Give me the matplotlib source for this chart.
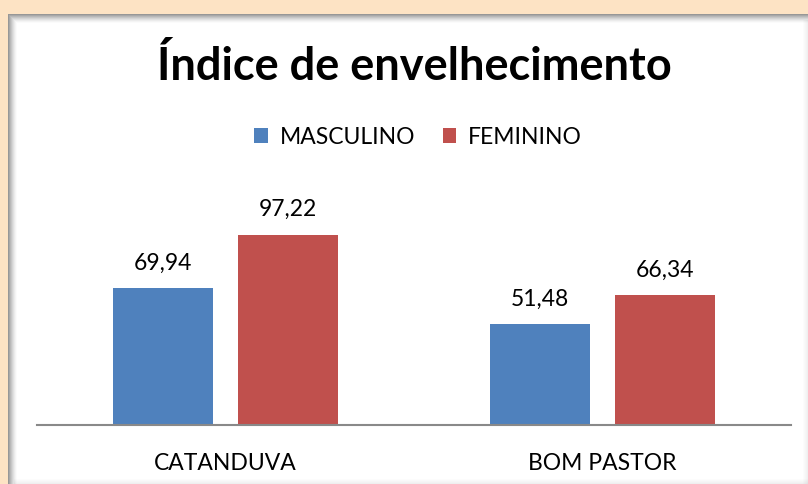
import matplotlib
matplotlib.use("Agg")
import matplotlib.pyplot as plt
from matplotlib.patches import Rectangle
import numpy as np

categories = ["CATANDUVA", "BOM PASTOR"]
masculino = [69.94, 51.48]
feminino = [97.22, 66.34]
series_names = ["MASCULINO", "FEMININO"]
colors = ["#4F81BD", "#C0504D"]
title = "Índice de envelhecimento"

W, H = 808, 484
fig = plt.figure(figsize=(W / 100, H / 100), dpi=100)
fig.patch.set_facecolor("#FDE3C4")

# white panel with inner shadow
px0, py0 = 8, 14  # left, top in pixels
fig.patches.append(Rectangle((px0 / W, 0), 1, (H - py0) / H, transform=fig.transFigure,
                             facecolor="white", edgecolor="none", zorder=1))
steps = 9
for i in range(steps):
    a = 0.65 * (1 - i / steps) ** 1.5
    fig.patches.append(Rectangle(((px0 + i) / W, 0), 1 / W, (H - py0 - i) / H,
                                 transform=fig.transFigure, facecolor="#606060",
                                 alpha=a, edgecolor="none", zorder=1.1))
    fig.patches.append(Rectangle(((px0 + i + 1) / W, (H - py0 - i - 1) / H), 1, 1 / H,
                                 transform=fig.transFigure, facecolor="#606060",
                                 alpha=a, edgecolor="none", zorder=1.1))
for i in range(5):
    a = 0.12 * (1 - i / 5)
    fig.patches.append(Rectangle(((W - 1 - i) / W, 0), 1 / W, (H - py0 - 6) / H,
                                 transform=fig.transFigure, facecolor="#808080",
                                 alpha=a, edgecolor="none", zorder=1.1))
    fig.patches.append(Rectangle(((px0 + 6) / W, i / H), 1, 1 / H,
                                 transform=fig.transFigure, facecolor="#808080",
                                 alpha=a, edgecolor="none", zorder=1.1))

family = ["Lato", "DejaVu Sans"]
fs = 16.5
ax = fig.add_axes([37 / W, (H - 425) / H, (791 - 37) / W, (425 - 190) / H])
ax.set_facecolor("none")
ax.set_zorder(2)

x = np.arange(len(categories))
bw = 100 / 377
gap = 25 / 377
off = (bw + gap) / 2
b1 = ax.bar(x - off, masculino, bw, color=colors[0], label=series_names[0])
b2 = ax.bar(x + off, feminino, bw, color=colors[1], label=series_names[1])

for bars, vals in ((b1, masculino), (b2, feminino)):
    for b, v in zip(bars, vals):
        ax.text(b.get_x() + b.get_width() / 2, v + 7.5, f"{v:.2f}".replace(".", ","),
                ha="center", va="bottom", fontsize=fs, family=family, color="#000000")

ax.set_xlim(-0.5, len(categories) - 0.5)
ax.set_ylim(0, 120)
ax.set_yticks([])
ax.set_xticks(x)
ax.set_xticklabels(categories, fontsize=fs, family=family)
ax.tick_params(axis="x", length=0, pad=20)
for s in ["top", "right", "left"]:
    ax.spines[s].set_visible(False)
ax.spines["bottom"].set_color("#898989")
ax.spines["bottom"].set_linewidth(1.5)

fig.text(414 / W, 1 - 67 / H, title, ha="center", va="center", fontsize=32.5,
         fontweight="bold", family=family, zorder=3)

leg = fig.legend(handles=[b1, b2], labels=series_names, loc="center",
                 bbox_to_anchor=(418 / W, 1 - 137 / H), ncol=2, frameon=False,
                 prop={"family": family, "size": fs}, handlelength=0.6,
                 handleheight=0.6, handletextpad=0.5, columnspacing=1.2)
leg.set_zorder(3)

fig.savefig("out.png", dpi=100, facecolor=fig.get_facecolor())
